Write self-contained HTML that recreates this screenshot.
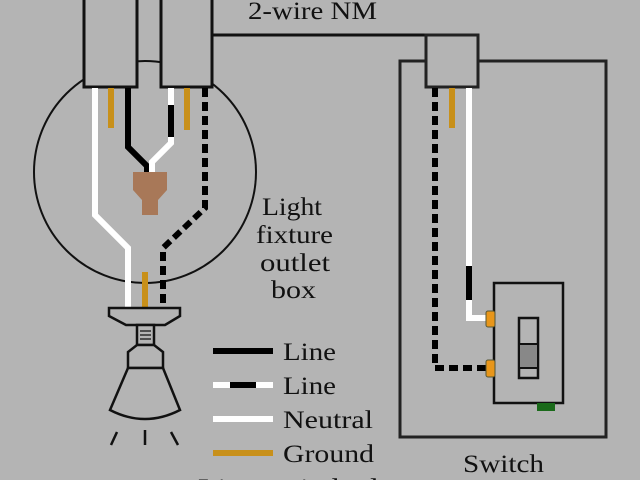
<!DOCTYPE html>
<html><head><meta charset="utf-8"><style>html,body{margin:0;padding:0;background:#b4b4b4;overflow:hidden;width:640px;height:480px}svg{display:block}</style></head><body>
<svg width="640" height="480" viewBox="0 0 640 480" xmlns="http://www.w3.org/2000/svg" font-family="'Liberation Serif',serif" fill="none" overflow="hidden">
<rect width="640" height="480" fill="#b4b4b4"/>
<circle cx="145" cy="172" r="111" stroke="#111" stroke-width="2"/>
<rect x="84" y="-5" width="53" height="92" fill="#b4b4b4" stroke="#111" stroke-width="3"/>
<rect x="161" y="-5" width="51" height="92" fill="#b4b4b4" stroke="#111" stroke-width="3"/>
<path d="M212 87 V35 H478" stroke="#111" stroke-width="3"/>
<rect x="400" y="61" width="206" height="376" stroke="#222" stroke-width="3"/>
<rect x="426" y="35" width="52" height="52" fill="#b4b4b4" stroke="#222" stroke-width="3"/>
<path d="M95 88 V215 L128 248 V308" stroke="#fff" stroke-width="6"/>
<path d="M111 88 V128" stroke="#c8901a" stroke-width="6"/>
<path d="M128 88 V147 L147 166 V172" stroke="#000" stroke-width="6"/>
<path d="M171 88 V143 L152 162 V172" stroke="#fff" stroke-width="6"/>
<path d="M171 105 V137" stroke="#000" stroke-width="6"/>
<path d="M187 88 V130" stroke="#c8901a" stroke-width="6"/>
<path d="M205 88 V208 L163 248 V308" stroke="#000" stroke-width="6" stroke-dasharray="9,5"/>
<path d="M145 272 V308" stroke="#c8901a" stroke-width="6"/>
<polygon points="133,172 167,172 167,190 158,200 158,215 142,215 142,200 133,190" fill="#a87858"/>
<g stroke="#111" stroke-width="2.5" fill="#b4b4b4">
<polygon points="109,308 180,308 180,316 165,325 126,325 109,316"/>
<rect x="137" y="325" width="17" height="20"/>
<path d="M140 331 H151 M140 335 H151 M140 339 H151" stroke-width="1.2"/>
<polygon points="137,345 128,352 128,368 163,368 163,352 154,345"/>
<path d="M128 368 L110 410 Q145 428 180 410 L163 368 Z"/>
<path d="M117 432 L111 445 M145 430 V445 M171 432 L178 445" fill="none"/>
</g>
<path d="M435 88 V368 H488" stroke="#000" stroke-width="6" stroke-dasharray="9,5"/>
<path d="M452 88 V128" stroke="#c8901a" stroke-width="6"/>
<path d="M469 88 V318 H488" stroke="#fff" stroke-width="6"/>
<path d="M469 266 V300" stroke="#000" stroke-width="6"/>
<rect x="494" y="283" width="69" height="120" stroke="#111" stroke-width="2.5"/>
<rect x="519" y="318" width="19" height="60" fill="#b4b4b4" stroke="#111" stroke-width="2.5"/>
<rect x="520" y="344" width="17" height="25" fill="#888"/>
<path d="M519 344 H538 M519 368 H538" stroke="#111" stroke-width="2"/>
<rect x="486" y="311" width="9" height="16" rx="2" fill="#e8961a" stroke="#553" stroke-width="1"/>
<rect x="486" y="360" width="9" height="17" rx="2" fill="#e8961a" stroke="#553" stroke-width="1"/>
<rect x="537" y="403" width="18" height="8" fill="#1a6a1a"/>
<path d="M213 351 H273" stroke="#000" stroke-width="6"/>
<path d="M213 385 H273" stroke="#fff" stroke-width="6"/>
<path d="M230 385 H256" stroke="#000" stroke-width="6"/>
<path d="M213 419 H273" stroke="#fff" stroke-width="6"/>
<path d="M213 453 H273" stroke="#c8901a" stroke-width="6"/>
<g fill="#111" font-size="25">
<text x="283" y="360" textLength="53" lengthAdjust="spacingAndGlyphs">Line</text>
<text x="283" y="394" textLength="53" lengthAdjust="spacingAndGlyphs">Line</text>
<text x="283" y="428" textLength="90" lengthAdjust="spacingAndGlyphs">Neutral</text>
<text x="283" y="462" textLength="91" lengthAdjust="spacingAndGlyphs">Ground</text>
<text x="248" y="19" textLength="129" lengthAdjust="spacingAndGlyphs">2-wire NM</text>
<text x="262" y="215" textLength="60" lengthAdjust="spacingAndGlyphs">Light</text>
<text x="256" y="243" textLength="77" lengthAdjust="spacingAndGlyphs">fixture</text>
<text x="260" y="271" textLength="70" lengthAdjust="spacingAndGlyphs">outlet</text>
<text x="271" y="298" textLength="45" lengthAdjust="spacingAndGlyphs">box</text>
<text x="463" y="472" textLength="81" lengthAdjust="spacingAndGlyphs">Switch</text>
<text x="198" y="496" textLength="180" lengthAdjust="spacingAndGlyphs">Line switched</text>
</g>
</svg>
</body></html>
